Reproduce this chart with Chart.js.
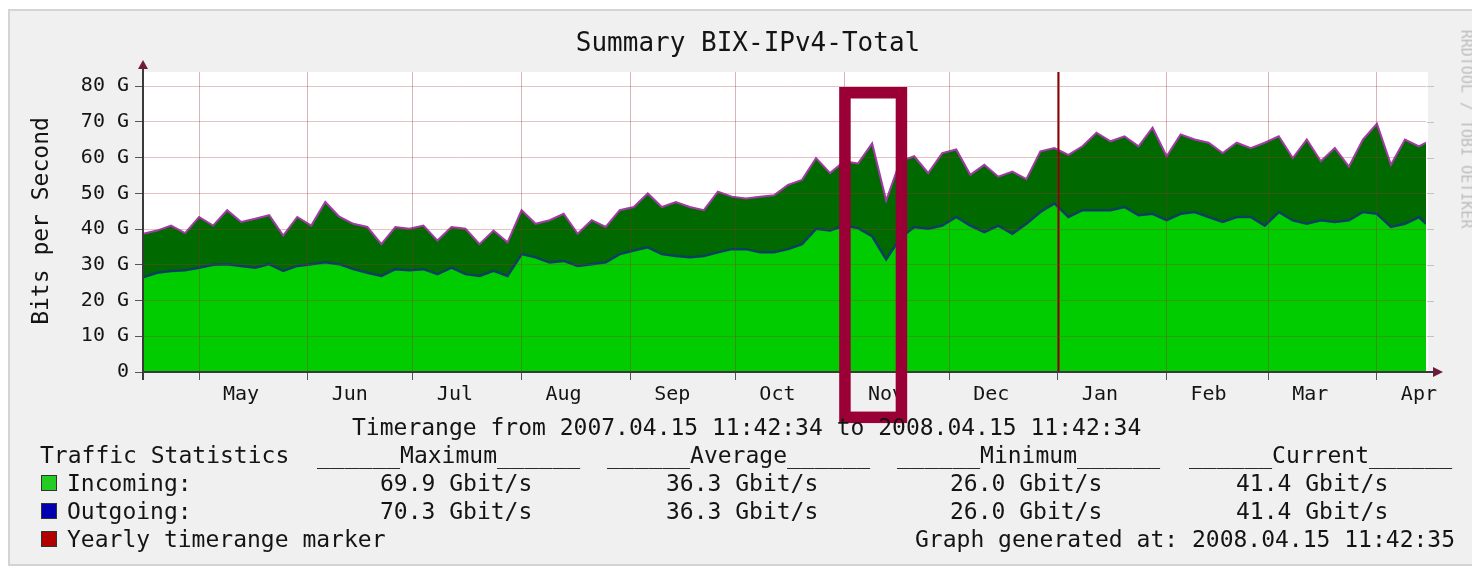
<!DOCTYPE html>
<html>
<head>
<meta charset="utf-8">
<title>Summary BIX-IPv4-Total</title>
<script src="https://cdn.jsdelivr.net/npm/chart.js@4.4.1/dist/chart.umd.min.js"></script>
<style>
  html, body { margin: 0; padding: 0; background: #fff; }
  #wrap { position: relative; width: 1472px; height: 569px; overflow: hidden; }
  #frame { position: absolute; left: 8px; top: 9px; width: 1480px; height: 557px;
           background: #f0f0f0; border: 2px solid #d4d4d4; box-sizing: border-box; }
  canvas { position: absolute; left: 0; top: 0; }
  .t { position: absolute; font-family: 'DejaVu Sans Mono', monospace; white-space: pre;
       color: #141414; line-height: 1; font-size: 23px; }
  .sq { position: absolute; width: 14px; height: 14px; border: 1px solid #333; left: 41px; }
</style>
</head>
<body>
<div id="wrap">
  <div id="frame"></div>
  <canvas id="chart" width="1472" height="569"></canvas>

  <div class="t" style="left:748px; top:29px; font-size:26px; transform:translateX(-50%);">Summary BIX-IPv4-Total</div>
  <div class="t" style="left:40px; top:221px; transform:translate(-50%,-50%) rotate(-90deg);">Bits per Second</div>
  <div class="t" style="left:1466px; top:129px; font-size:15px; color:#bcbcbc; transform:translate(-50%,-50%) rotate(90deg);">RRDTOOL / TOBI OETIKER</div>

  <div class="t" style="left:352px; top:416px;">Timerange from 2007.04.15 11:42:34 to 2008.04.15 11:42:34</div>
  <div class="t" style="left:40px; top:444px;">Traffic Statistics</div>
  <div class="t" style="left:317px; top:444px;">______Maximum______</div>
  <div class="t" style="left:607px; top:444px;">______Average______</div>
  <div class="t" style="left:897px; top:444px;">______Minimum______</div>
  <div class="t" style="left:1189px; top:444px;">______Current______</div>

  <div class="sq" style="top:475px; background:#22cc22;"></div>
  <div class="t" style="left:67px; top:472px;">Incoming:</div>
  <div class="t" style="left:380px; top:472px;">69.9 Gbit/s</div>
  <div class="t" style="left:666px; top:472px;">36.3 Gbit/s</div>
  <div class="t" style="left:950px; top:472px;">26.0 Gbit/s</div>
  <div class="t" style="left:1236px; top:472px;">41.4 Gbit/s</div>

  <div class="sq" style="top:503px; background:#0000b0;"></div>
  <div class="t" style="left:67px; top:500px;">Outgoing:</div>
  <div class="t" style="left:380px; top:500px;">70.3 Gbit/s</div>
  <div class="t" style="left:666px; top:500px;">36.3 Gbit/s</div>
  <div class="t" style="left:950px; top:500px;">26.0 Gbit/s</div>
  <div class="t" style="left:1236px; top:500px;">41.4 Gbit/s</div>

  <div class="sq" style="top:531px; background:#b00000;"></div>
  <div class="t" style="left:67px; top:528px;">Yearly timerange marker</div>
  <div class="t" style="left:915px; top:528px;">Graph generated at: 2008.04.15 11:42:35</div>
</div>

<script>
// one sample every 4 days, starting 2007-04-15 (day 0), last sample at day 366
var STEP_DAYS = 4;
var LAST_DAY = 366;

// top of the light green area (Gbit/s)
var lowerGbps = [
  26.5, 27.8, 28.3, 28.5, 29.2, 30.0, 30.2, 29.7, 29.2, 30.2, 28.3, 29.7, 30.2, 30.7, 30.2, 28.8, 27.8, 26.9, 28.8,
  28.5, 28.8, 27.4, 29.2, 27.4, 26.9, 28.3, 26.9, 33.0, 32.1, 30.7, 31.1, 29.7, 30.2, 30.7, 33.0, 34.0, 34.9,
  33.0, 32.5, 32.1, 32.5, 33.5, 34.4, 34.4, 33.5, 33.5, 34.4, 35.8, 40.1, 39.6, 41.0, 40.3, 38.0, 31.5, 37.5, 40.6,
  40.1, 41.0, 43.4, 41.0, 39.2, 41.0, 38.7, 41.5, 44.8, 47.2, 43.4, 45.3, 45.3, 45.3, 46.2, 43.9, 44.3, 42.5,
  44.3, 44.8, 43.4, 42.0, 43.4, 43.4, 41.0, 44.8, 42.5, 41.5, 42.5, 42.0, 42.5, 44.8, 44.3, 40.6, 41.5, 43.4, 41.5
];

// top of the dark green area (Gbit/s)
var upperGbps = [
  38.7, 39.6, 41.0, 38.9, 43.4, 41.0, 45.3, 42.0, 42.9, 43.9, 38.2, 43.4, 41.0, 47.6, 43.5, 41.5, 40.6, 35.8, 40.6,
  40.1, 41.0, 36.8, 40.6, 40.1, 35.8, 39.6, 36.3, 45.3, 41.5, 42.5, 44.3, 38.7, 42.5, 40.6, 45.3, 46.2, 50.0,
  46.2, 47.6, 46.2, 45.3, 50.5, 49.1, 48.6, 49.1, 49.5, 52.4, 53.8, 59.9, 55.7, 59.0, 58.4, 64.0, 48.0, 59.0, 60.4,
  55.7, 61.3, 62.3, 55.2, 58.0, 54.7, 56.1, 54.0, 61.8, 62.7, 60.8, 63.2, 67.0, 64.6, 66.0, 63.2, 68.4, 60.4,
  66.5, 65.1, 64.2, 61.3, 64.2, 62.7, 64.2, 66.0, 59.9, 65.1, 59.0, 62.7, 57.5, 65.1, 69.5, 58.0, 65.1, 63.2, 64.2
];

// x axis: month starts (grid) and their labels
var monthStartDays = [16, 47, 77, 108, 139, 169, 200, 230, 261, 292, 321, 352];
var monthLabels = ['May', 'Jun', 'Jul', 'Aug', 'Sep', 'Oct', 'Nov', 'Dec', 'Jan', 'Feb', 'Mar', 'Apr'];

// y axis labels every 10 G
var yLabels = ['0', '10 G', '20 G', '30 G', '40 G', '50 G', '60 G', '70 G', '80 G'];

// 2008-01-01
var yearMarkerDay = 261;

// hand drawn highlight box (days / Gbit/s of its outer edge)
var boxFromDay = 198.6, boxToDay = 218.0, boxTopG = 79.8, boxBottomG = -14.3;

function toPoints(arr) {
  return arr.map(function (v, i) {
    return { x: Math.min(i * STEP_DAYS, LAST_DAY), y: v };
  });
}

var rrdExtras = {
  id: 'rrdExtras',
  beforeDraw: function (chart) {
    var a = chart.chartArea, c = chart.ctx;
    c.save();
    c.fillStyle = '#ffffff';
    c.fillRect(a.left, a.top, a.right - a.left + 2, a.bottom - a.top);
    c.restore();
  },
  afterDatasetsDraw: function (chart) {
    var a = chart.chartArea, c = chart.ctx, xs = chart.scales.x;
    var mx = Math.round(xs.getPixelForValue(yearMarkerDay)) + 0.5;
    c.save();
    c.strokeStyle = '#8a0000';
    c.lineWidth = 2;
    c.beginPath();
    c.moveTo(mx, a.top);
    c.lineTo(mx, a.bottom);
    c.stroke();
    c.restore();
  },
  afterDraw: function (chart) {
    var a = chart.chartArea, c = chart.ctx, xs = chart.scales.x, ys = chart.scales.y;
    c.save();
    // grid stubs right of the plot
    c.strokeStyle = '#c4c4c4';
    c.lineWidth = 1;
    ys.ticks.forEach(function (t) {
      var py = Math.round(ys.getPixelForValue(t.value)) + 0.5;
      c.beginPath();
      c.moveTo(a.right + 1, py);
      c.lineTo(a.right + 8, py);
      c.stroke();
    });
    // axes with arrows
    c.strokeStyle = '#3a3a3a';
    c.lineWidth = 2;
    c.beginPath();
    c.moveTo(a.left, a.bottom + 8);
    c.lineTo(a.left, a.top - 6);
    c.moveTo(a.left, a.bottom);
    c.lineTo(a.right + 8, a.bottom);
    c.stroke();
    c.fillStyle = '#6e1c3c';
    c.beginPath();
    c.moveTo(a.left, a.top - 12);
    c.lineTo(a.left - 5, a.top - 3);
    c.lineTo(a.left + 5, a.top - 3);
    c.closePath();
    c.fill();
    c.beginPath();
    c.moveTo(a.right + 17, a.bottom);
    c.lineTo(a.right + 7, a.bottom - 5);
    c.lineTo(a.right + 7, a.bottom + 5);
    c.closePath();
    c.fill();
    // highlight box
    var lw = 11.5;
    var x0 = xs.getPixelForValue(boxFromDay), x1 = xs.getPixelForValue(boxToDay);
    var y0 = ys.getPixelForValue(boxTopG), y1 = ys.getPixelForValue(boxBottomG);
    c.strokeStyle = '#9a0036';
    c.lineWidth = lw;
    c.strokeRect(x0 + lw / 2, y0 + lw / 2, x1 - x0 - lw, y1 - y0 - lw);
    c.restore();
  }
};

new Chart(document.getElementById('chart'), {
  type: 'line',
  data: {
    datasets: [
      {
        label: 'Incoming',
        data: toPoints(lowerGbps),
        fill: 'origin',
        backgroundColor: '#00cc00',
        borderColor: '#0e3f62',
        borderWidth: 2.5,
        pointRadius: 0,
        tension: 0
      },
      {
        label: 'Outgoing',
        data: toPoints(upperGbps),
        fill: '-1',
        backgroundColor: '#006a00',
        borderColor: '#a43aa8',
        borderWidth: 2,
        pointRadius: 0,
        tension: 0
      }
    ]
  },
  options: {
    responsive: false,
    animation: false,
    events: [],
    layout: { padding: { left: 0, top: 72, right: 46, bottom: 157 } },
    plugins: { legend: { display: false }, tooltip: { enabled: false } },
    scales: {
      x: {
        type: 'linear',
        min: 0,
        max: LAST_DAY,
        afterFit: function (s) { s.height = 40; },
        afterBuildTicks: function (s) {
          s.ticks = monthStartDays.map(function (d) { return { value: d }; });
        },
        grid: {
          z: 1,
          color: 'rgba(150,40,55,0.35)',
          tickColor: '#555',
          tickLength: 8,
          lineWidth: 1
        },
        border: { display: false },
        ticks: {
          autoSkip: false,
          maxRotation: 0,
          padding: 3,
          labelOffset: 42,
          color: '#141414',
          font: { family: 'DejaVu Sans Mono', size: 20 },
          callback: function (v, i) { return monthLabels[i]; }
        }
      },
      y: {
        min: 0,
        max: 84,
        afterFit: function (s) { s.width = 143; },
        grid: {
          z: 1,
          color: function (ctx) {
            return ctx.tick && ctx.tick.value % 10 === 0 ? 'rgba(170,50,60,0.30)' : 'rgba(170,50,60,0.22)';
          },
          tickColor: function (ctx) {
            return ctx.tick && ctx.tick.value % 10 === 0 ? '#555' : 'rgba(0,0,0,0)';
          },
          tickLength: 8,
          lineWidth: 1
        },
        border: { display: false },
        ticks: {
          stepSize: 5,
          includeBounds: false,
          padding: 6,
          color: '#141414',
          font: { family: 'DejaVu Sans Mono', size: 20 },
          callback: function (v) { return v % 10 === 0 ? yLabels[v / 10] : ''; }
        }
      }
    }
  },
  plugins: [rrdExtras]
});
</script>
</body>
</html>
